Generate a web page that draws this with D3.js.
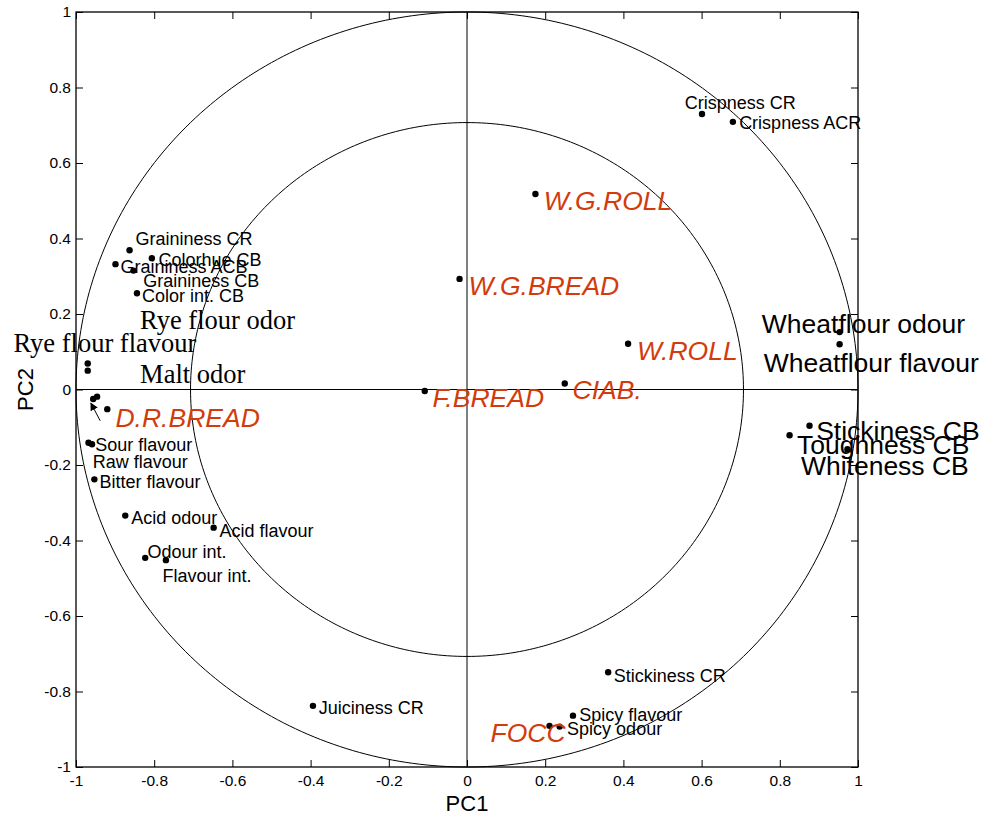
<!DOCTYPE html>
<html>
<head>
<meta charset="utf-8">
<script src="https://cdn.jsdelivr.net/npm/d3@7"></script>
<style>
  html, body { margin: 0; padding: 0; background: #fff; }
  svg { display: block; }
</style>
</head>
<body>
<svg id="chart" width="981" height="816"></svg>
<script>
// ---------- DATA ----------
// Sensory attributes (loadings)
const attrNames = ["Crispness CR", "Crispness ACR", "Graininess CR", "Colorhue CB", "Graininess ACB",
  "Graininess CB", "Color int. CB", "Sour flavour", "Raw flavour", "Bitter flavour", "Acid odour",
  "Acid flavour", "Odour int.", "Flavour int.", "Stickiness CR", "Juiciness CR", "Spicy flavour",
  "Spicy odour"];
const attrX = [0.601, 0.680, -0.863, -0.806, -0.899, -0.853, -0.844, -0.968, -0.959, -0.953, -0.874,
  -0.648, -0.823, -0.770, 0.361, -0.394, 0.271, 0.237];
const attrY = [0.730, 0.709, 0.369, 0.348, 0.332, 0.315, 0.255, -0.141, -0.145, -0.238, -0.334,
  -0.366, -0.446, -0.452, -0.749, -0.838, -0.864, -0.893];
const attrLabelX = [0.557, 0.696, -0.848, -0.789, -0.886, -0.828, -0.831, -0.951, -0.957, -0.940, -0.859,
  -0.633, -0.817, -0.779, 0.375, -0.379, 0.287, 0.256];
const attrLabelY = [0.743, 0.690, 0.383, 0.327, 0.309, 0.272, 0.233, -0.162, -0.209, -0.260, -0.356,
  -0.390, -0.447, -0.509, -0.774, -0.860, -0.878, -0.915];

// Large sans-serif attributes
const bigNames = ["Wheatflour odour", "Wheatflour flavour", "Stickiness CB", "Toughness CB", "Whiteness CB"];
const bigX = [0.953, 0.953, 0.876, 0.825, 0.973];
const bigY = [0.152, 0.120, -0.096, -0.121, -0.158];
const bigLabelX = [0.754, 0.759, 0.893, 0.844, 0.854];
const bigLabelY = [0.149, 0.047, -0.134, -0.171, -0.226];

// Large serif attributes
const serifNames = ["Rye flour odor", "Rye flour flavour", "Malt odor", ""];
const serifX = [-0.970, -0.970, -0.956, -0.946];
const serifY = [0.069, 0.050, -0.025, -0.019];
const serifLabelX = [-0.836, -1.160, -0.836, 0];
const serifLabelY = [0.160, 0.100, 0.018, 0];

// Products (scores)
const prodNames = ["W.G.ROLL", "W.G.BREAD", "W.ROLL", "CIAB.", "F.BREAD", "D.R.BREAD", "FOCC"];
const prodX = [0.175, -0.019, 0.412, 0.250, -0.108, -0.920, 0.211];
const prodY = [0.518, 0.293, 0.121, 0.016, -0.004, -0.052, -0.891];
const prodLabelX = [0.196, 0.004, 0.435, 0.270, -0.088, -0.899, 0.060];
const prodLabelY = [0.475, 0.250, 0.078, -0.025, -0.046, -0.099, -0.935];

// Arrow (from, to)
const arrowFrom = [-0.938, -0.083];
const arrowTo = [-0.962, -0.036];

// Correlation circles
const circleRadii = [1, Math.SQRT1_2];

// Ticks
const tickValues = [-1, -0.8, -0.6, -0.4, -0.2, 0, 0.2, 0.4, 0.6, 0.8, 1];
const tickLabels = ["-1", "-0.8", "-0.6", "-0.4", "-0.2", "0", "0.2", "0.4", "0.6", "0.8", "1"];
const xTitle = "PC1";
const yTitle = "PC2";

// ---------- CHART ----------
const svg = d3.select("#chart");
const L = 76, R = 858, T = 12, B = 767;
const x = d3.scaleLinear().domain([-1, 1]).range([L, R]);
const y = d3.scaleLinear().domain([-1, 1]).range([B, T]);
const SANS = "Arial, 'Liberation Sans', Helvetica, sans-serif";
const SERIF = "'Times New Roman', 'Liberation Serif', Times, serif";
const RED = "#d23c0c";

// Circles
const angles = d3.range(0, 361, 1).map(d => d * Math.PI / 180);
circleRadii.forEach(r => {
  const line = d3.line().x(a => x(r * Math.cos(a))).y(a => y(r * Math.sin(a)));
  svg.append("path").attr("d", line(angles)).attr("fill", "none")
    .attr("stroke", "#000").attr("stroke-width", 1);
});

// Zero lines
svg.append("line").attr("x1", x(-1)).attr("x2", x(1)).attr("y1", y(0)).attr("y2", y(0))
  .attr("stroke", "#000").attr("stroke-width", 1);
svg.append("line").attr("x1", x(0)).attr("x2", x(0)).attr("y1", y(-1)).attr("y2", y(1))
  .attr("stroke", "#000").attr("stroke-width", 1);

// Axes
const fmt = d => tickLabels[tickValues.indexOf(d)];
function styleAxis(g, showText) {
  g.select(".domain").remove();
  g.selectAll(".tick line").attr("stroke", "#000").attr("stroke-width", 1);
  g.selectAll(".tick text").attr("fill", "#000").style("font-family", SANS).style("font-size", "15.5px");
  if (!showText) g.selectAll(".tick text").remove();
}
svg.append("g").attr("transform", `translate(0,${B})`)
  .call(d3.axisBottom(x).tickValues(tickValues).tickFormat(fmt).tickSize(-7).tickPadding(8))
  .call(g => styleAxis(g, true));
svg.append("g").attr("transform", `translate(0,${T})`)
  .call(d3.axisTop(x).tickValues(tickValues).tickFormat(fmt).tickSize(-7))
  .call(g => styleAxis(g, false));
svg.append("g").attr("transform", `translate(${L},0)`)
  .call(d3.axisLeft(y).tickValues(tickValues).tickFormat(fmt).tickSize(-7).tickPadding(5))
  .call(g => styleAxis(g, true));
svg.append("g").attr("transform", `translate(${R},0)`)
  .call(d3.axisRight(y).tickValues(tickValues).tickFormat(fmt).tickSize(-7))
  .call(g => styleAxis(g, false));

// Frame
svg.append("rect").attr("x", L).attr("y", T).attr("width", R - L).attr("height", B - T)
  .attr("fill", "none").attr("stroke", "#000").attr("stroke-width", 1.3);

// Axis titles
svg.append("text").attr("x", (L + R) / 2).attr("y", 811).attr("text-anchor", "middle")
  .style("font-family", SANS).style("font-size", "22px").text(xTitle);
svg.append("text").attr("transform", `translate(33,${y(0)}) rotate(-90)`).attr("text-anchor", "middle")
  .style("font-family", SANS).style("font-size", "22px").text(yTitle);

// Helper to draw a group
function drawGroup(names, xs, ys, lxs, lys, font, size, color, italic) {
  const g = svg.append("g");
  names.forEach((n, i) => {
    g.append("circle").attr("cx", x(xs[i])).attr("cy", y(ys[i])).attr("r", 3.2).attr("fill", "#000");
  });
  names.forEach((n, i) => {
    if (!n) return;
    g.append("text").attr("x", x(lxs[i])).attr("y", y(lys[i]))
      .style("font-family", font).style("font-size", size + "px")
      .style("font-style", italic ? "italic" : "normal")
      .attr("fill", color).text(n);
  });
}
drawGroup(attrNames, attrX, attrY, attrLabelX, attrLabelY, SANS, 18, "#000", false);
drawGroup(bigNames, bigX, bigY, bigLabelX, bigLabelY, SANS, 26.5, "#000", false);
drawGroup(serifNames, serifX, serifY, serifLabelX, serifLabelY, SERIF, 26.5, "#000", false);
drawGroup(prodNames, prodX, prodY, prodLabelX, prodLabelY, SANS, 26.5, RED, true);

// Arrow
svg.append("defs").append("marker").attr("id", "ah").attr("viewBox", "0 0 10 10")
  .attr("refX", 9).attr("refY", 5).attr("markerWidth", 8).attr("markerHeight", 8)
  .attr("markerUnits", "userSpaceOnUse").attr("orient", "auto")
  .append("path").attr("d", "M0,0 L10,5 L0,10 Z").attr("fill", "#000");
svg.append("line").attr("x1", x(arrowFrom[0])).attr("y1", y(arrowFrom[1]))
  .attr("x2", x(arrowTo[0])).attr("y2", y(arrowTo[1]))
  .attr("stroke", "#000").attr("stroke-width", 1).attr("marker-end", "url(#ah)");
</script>
</body>
</html>
